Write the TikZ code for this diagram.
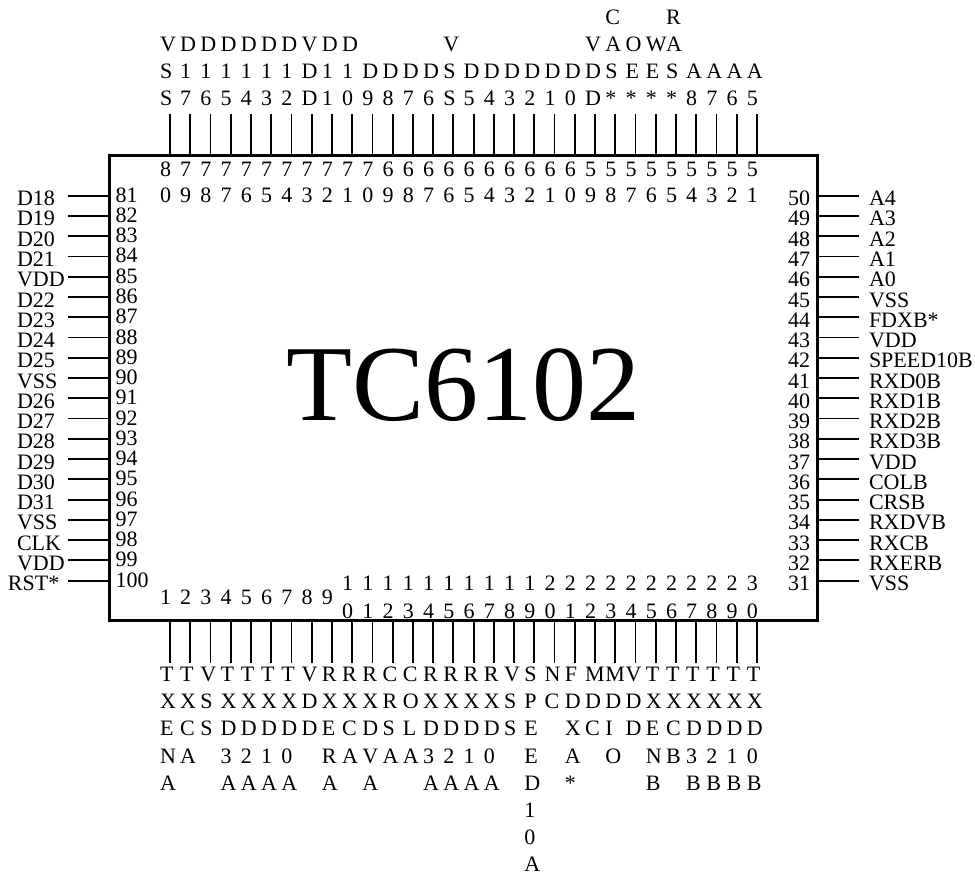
\documentclass[tikz,border=0pt]{standalone}
\usepackage{fontspec}
\setmainfont{Liberation Serif}
\usetikzlibrary{positioning}

\begin{document}
\begin{tikzpicture}[
  x=1pt,y=-1pt,
  chipbox/.style={draw,line width=3pt,minimum width=708.5pt,minimum height=465.5pt,inner sep=0pt,outer sep=0pt},
  pinline/.style={line width=1.8pt},
  pinlabel/.style={inner sep=0pt,outer sep=0pt,align=left,font=\fontsize{22}{27.1}\selectfont},
  topnum/.style={inner sep=0pt,outer sep=0pt,align=left,font=\fontsize{22}{25.6}\selectfont},
  botnum/.style={inner sep=0pt,outer sep=0pt,align=left,font=\fontsize{22}{27.5}\selectfont}
]
\useasboundingbox (0,0) rectangle (975,875);

\node[chipbox] (chip) at (463.25,388) {};
\node[inner sep=0pt,anchor=base,font=\fontsize{108}{108}\selectfont] (title) at (463.3,420) {TC6102};

\foreach \num/\name [count=\i from 0, evaluate=\i as \x using 170+20.24*\i] in {
  8\\0/V\\S\\S,7\\9/D\\1\\7,7\\8/D\\1\\6,7\\7/D\\1\\5,7\\6/D\\1\\4,7\\5/D\\1\\3,7\\4/D\\1\\2,7\\3/V\\D\\D,7\\2/D\\1\\1,7\\1/D\\1\\0,
  7\\0/D\\9,6\\9/D\\8,6\\8/D\\7,6\\7/D\\6,6\\6/V\\S\\S,6\\5/D\\5,6\\4/D\\4,6\\3/D\\3,6\\2/D\\2,6\\1/D\\1,
  6\\0/D\\0,5\\9/V\\D\\D,5\\8/C\\A\\S\\*,5\\7/O\\E\\*,5\\6/W\\E\\*,5\\5/R\\A\\S\\*,5\\4/A\\8,5\\3/A\\7,5\\2/A\\6,5\\1/A\\5} {
  \coordinate (topend\i) at (\x,114);
  \draw[pinline] (topend\i) -- (topend\i |- chip.north);
  \node[pinlabel,anchor=base west] (topname\i) at (\x-10,106) {\name};
  \node[topnum,anchor=base west] (topno\i) at (\x-10,202) {\num};
}

\foreach \num/\name [count=\i from 0, evaluate=\i as \x using 170+20.24*\i] in {
  1/T\\X\\E\\N\\A,2/T\\X\\C\\A,3/V\\S\\S,4/T\\X\\D\\3\\A,5/T\\X\\D\\2\\A,6/T\\X\\D\\1\\A,7/T\\X\\D\\0\\A,8/V\\D\\D,9/R\\X\\E\\R\\A,
  1\\0/R\\X\\C\\A,1\\1/R\\X\\D\\V\\A,1\\2/C\\R\\S\\A,1\\3/C\\O\\L\\A,1\\4/R\\X\\D\\3\\A,1\\5/R\\X\\D\\2\\A,1\\6/R\\X\\D\\1\\A,1\\7/R\\X\\D\\0\\A,1\\8/V\\S\\S,
  1\\9/S\\P\\E\\E\\D\\1\\0\\A,2\\0/N\\C,2\\1/F\\D\\X\\A\\*,2\\2/M\\D\\C,2\\3/M\\D\\I\\O,2\\4/V\\D\\D,
  2\\5/T\\X\\E\\N\\B,2\\6/T\\X\\C\\B,2\\7/T\\X\\D\\3\\B,2\\8/T\\X\\D\\2\\B,2\\9/T\\X\\D\\1\\B,3\\0/T\\X\\D\\0\\B} {
  \coordinate (botend\i) at (\x,662.5);
  \draw[pinline] (botend\i) -- (botend\i |- chip.south);
  \node[pinlabel,anchor=north west] (botname\i) at (\x-10,666.7) {\rule{0pt}{15pt}\name};
  \ifnum\i<9
    \node[botnum,anchor=base west] (botno\i) at (\x-10,604) {\num};
  \else
    \node[botnum,anchor=base west] (botno\i) at (\x-10,618) {\num};
  \fi
}

\foreach \num/\name [count=\i from 0, evaluate=\i as \y using 195.7+20.26*\i] in {
  81/D18,82/D19,83/D20,84/D21,85/VDD,86/D22,87/D23,88/D24,89/D25,90/VSS,
  91/D26,92/D27,93/D28,94/D29,95/D30,96/D31,97/VSS,98/CLK,99/VDD} {
  \coordinate (leftend\i) at (68.3,\y);
  \draw[pinline] (leftend\i) -- (leftend\i -| chip.west);
  \node[pinlabel,anchor=base west] (leftname\i) at (17,\y+10) {\name};
  \node[pinlabel,anchor=base west] (leftno\i) at (115.5,\y+6.5) {\num};
}
\coordinate (leftend19) at (68.3,580.7);
\draw[pinline] (leftend19) -- (leftend19 -| chip.west);
\node[pinlabel,anchor=base west] (leftname19) at (8,590.7) {RST*};
\node[pinlabel,anchor=base west] (leftno19) at (115.5,587.2) {100};

\foreach \num/\name [count=\i from 0, evaluate=\i as \y using 195.7+20.26*\i] in {
  50/A4,49/A3,48/A2,47/A1,46/A0,45/VSS,44/FDXB*,43/VDD,42/SPEED10B,41/RXD0B,
  40/RXD1B,39/RXD2B,38/RXD3B,37/VDD,36/COLB,35/CRSB,34/RXDVB,33/RXCB,32/RXERB,31/VSS} {
  \coordinate (rightend\i) at (858.7,\y);
  \draw[pinline] (rightend\i) -- (rightend\i -| chip.east);
  \node[pinlabel,anchor=base west] (rightname\i) at (869,\y+10) {\name};
  \node[pinlabel,anchor=base west] (rightno\i) at (788,\y+10) {\num};
}

\end{tikzpicture}
\end{document}
